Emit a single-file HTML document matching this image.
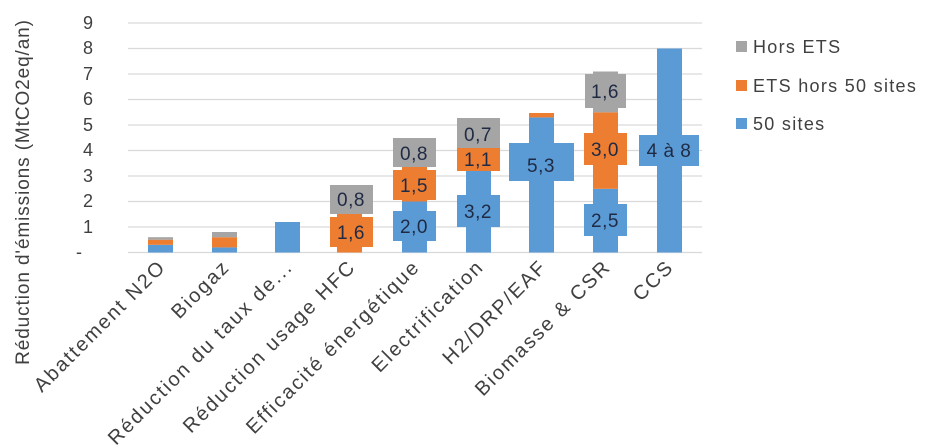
<!DOCTYPE html>
<html><head><meta charset="utf-8"><style>
html,body{margin:0;padding:0;background:#fff;}
svg{display:block;font-family:"Liberation Sans","DejaVu Sans",sans-serif;}
</style></head><body>
<svg width="936" height="448" viewBox="0 0 936 448" xmlns="http://www.w3.org/2000/svg">
<g stroke="#d9d9d9" stroke-width="1.3">
<line x1="128" x2="702" y1="23" y2="23"/><line x1="128" x2="702" y1="48.5" y2="48.5"/>
<line x1="128" x2="702" y1="74" y2="74"/><line x1="128" x2="702" y1="99.5" y2="99.5"/>
<line x1="128" x2="702" y1="125" y2="125"/><line x1="128" x2="702" y1="150.5" y2="150.5"/>
<line x1="128" x2="702" y1="176" y2="176"/><line x1="128" x2="702" y1="201.5" y2="201.5"/>
<line x1="128" x2="702" y1="227" y2="227"/><line x1="128" x2="702" y1="252.5" y2="252.5"/>
</g>
<g font-size="18" fill="#404040" text-anchor="end">
<text x="93" y="29">9</text><text x="93" y="54">8</text><text x="93" y="80">7</text>
<text x="93" y="105">6</text><text x="93" y="131">5</text><text x="93" y="156">4</text>
<text x="93" y="182">3</text><text x="93" y="207">2</text><text x="93" y="233">1</text>
<text x="82" y="258">-</text>
</g>
<text transform="translate(29,192) rotate(-90)" font-size="19" letter-spacing="0.9" fill="#404040" text-anchor="middle">Réduction d'émissions (MtCO2eq/an)</text>
<g>
<rect x="148" y="244.8" width="25" height="7.7" fill="#5B9BD5"/>
<rect x="148" y="239.7" width="25" height="5.1" fill="#ED7D31"/>
<rect x="148" y="237.2" width="25" height="2.5" fill="#A5A5A5"/>
<rect x="212" y="247.4" width="25" height="5.1" fill="#5B9BD5"/>
<rect x="212" y="237.2" width="25" height="10.2" fill="#ED7D31"/>
<rect x="212" y="232" width="25" height="5.2" fill="#A5A5A5"/>
<rect x="275" y="222" width="25" height="30.5" fill="#5B9BD5"/>
<rect x="337" y="211.7" width="25" height="40.8" fill="#ED7D31"/>
<rect x="337" y="191.3" width="25" height="20.4" fill="#A5A5A5"/>
<rect x="402" y="201.5" width="25" height="51" fill="#5B9BD5"/>
<rect x="402" y="163.2" width="25" height="38.3" fill="#ED7D31"/>
<rect x="402" y="142.8" width="25" height="20.4" fill="#A5A5A5"/>
<rect x="466" y="170.9" width="25" height="81.6" fill="#5B9BD5"/>
<rect x="466" y="142.8" width="25" height="28.1" fill="#ED7D31"/>
<rect x="466" y="125" width="25" height="17.8" fill="#A5A5A5"/>
<rect x="529" y="117.4" width="25" height="135.1" fill="#5B9BD5"/>
<rect x="529" y="113" width="25" height="4.4" fill="#ED7D31"/>
<rect x="593" y="188.8" width="25" height="63.7" fill="#5B9BD5"/>
<rect x="593" y="112.3" width="25" height="76.5" fill="#ED7D31"/>
<rect x="593" y="71.5" width="25" height="40.8" fill="#A5A5A5"/>
<rect x="657" y="48.5" width="25" height="204" fill="#5B9BD5"/>
</g>
<g font-size="19" fill="#1f2a44" text-anchor="middle" letter-spacing="0.5">
<rect x="330" y="185" width="43" height="29" fill="#A5A5A5"/><text x="351" y="206">0,8</text>
<rect x="330" y="217" width="43" height="30" fill="#ED7D31"/><text x="351" y="239">1,6</text>
<rect x="393" y="211" width="43" height="30" fill="#5B9BD5"/><text x="414" y="233">2,0</text>
<rect x="393" y="170" width="43" height="30" fill="#ED7D31"/><text x="414" y="192">1,5</text>
<rect x="393" y="138" width="43" height="29" fill="#A5A5A5"/><text x="414" y="160">0,8</text>
<rect x="457" y="195" width="43" height="32" fill="#5B9BD5"/><text x="478" y="218">3,2</text>
<rect x="457" y="148" width="43" height="23" fill="#ED7D31"/><text x="478" y="166">1,1</text>
<rect x="457" y="118" width="43" height="30" fill="#A5A5A5"/><text x="478" y="141">0,7</text>
<rect x="509" y="143" width="65" height="38" fill="#5B9BD5"/><text x="541" y="172">5,3</text>
<rect x="584" y="204" width="43" height="32" fill="#5B9BD5"/><text x="605" y="227">2,5</text>
<rect x="584" y="133" width="43" height="32" fill="#ED7D31"/><text x="605" y="156">3,0</text>
<rect x="585" y="74" width="41" height="34" fill="#A5A5A5"/><text x="605" y="98">1,6</text>
<rect x="639" y="135" width="60" height="31" fill="#5B9BD5"/><text x="669" y="157">4 à 8</text>
</g>
<g font-size="20" letter-spacing="2" fill="#404040" text-anchor="end">
<text transform="translate(167,268) rotate(-45)">Abattement N2O</text>
<text transform="translate(231,268) rotate(-45)">Biogaz</text>
<text transform="translate(294,268) rotate(-45)">Réduction du taux de...</text>
<text transform="translate(357,268) rotate(-45)">Réduction usage HFC</text>
<text transform="translate(421,268) rotate(-45)">Efficacité énergétique</text>
<text transform="translate(485,268) rotate(-45)">Electrification</text>
<text transform="translate(548,268) rotate(-45)">H2/DRP/EAF</text>
<text transform="translate(612,268) rotate(-45)">Biomasse &amp; CSR</text>
<text transform="translate(675,268) rotate(-45)">CCS</text>
</g>
<g font-size="18" letter-spacing="1.3" fill="#404040">
<rect x="736" y="41" width="11" height="11" fill="#A5A5A5"/><text x="753" y="53">Hors ETS</text>
<rect x="736" y="80" width="11" height="11" fill="#ED7D31"/><text x="753" y="92">ETS hors 50 sites</text>
<rect x="736" y="118" width="11" height="11" fill="#5B9BD5"/><text x="753" y="130">50 sites</text>
</g>
</svg>
</body></html>
